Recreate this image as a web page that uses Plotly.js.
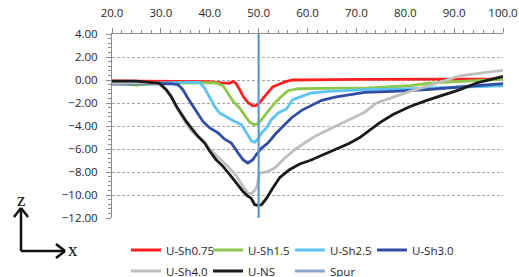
<!DOCTYPE html>
<html>
<head>
<meta charset="utf-8">
<script src="https://cdn.plot.ly/plotly-3.0.1.min.js"></script>
<style>html,body{margin:0;padding:0;background:#fff;}#chart{width:519px;height:277px;}</style>
</head>
<body>
<div id="chart"></div>
<script>
// ---- data ----
var seriesNames = ['U-Sh0.75', 'U-Sh1.5', 'U-Sh2.5', 'U-Sh3.0', 'U-Sh4.0', 'U-NS', 'Spur'];

var sh075X = [20, 25, 30, 35, 40, 42.5, 44, 44.8, 45.4, 46.2, 46.8, 47.8, 48.8, 49.4, 50.2, 50.9, 51.9, 52.9, 54.3, 55.7, 57, 60, 65, 70, 75, 80, 85, 90, 95, 100];
var sh075Y = [-0.08, -0.1, -0.1, -0.12, -0.15, -0.25, -0.28, -0.12, -0.3, -0.9, -1.4, -1.95, -2.25, -2.22, -2.0, -1.6, -1.1, -0.6, -0.35, -0.12, 0.0, 0.03, 0.04, 0.05, 0.07, 0.08, 0.07, 0.07, 0.08, 0.1];

var sh15X = [20, 23, 25, 27, 30, 35, 40, 41.3, 42.7, 43.7, 44.8, 46.1, 47.1, 48.2, 49.2, 49.9, 50.6, 51.9, 53.3, 54.7, 56, 58.1, 62.9, 66, 71.7, 76, 81, 85, 91.2, 95, 100];
var sh15Y = [-0.3, -0.35, -0.45, -0.35, -0.3, -0.25, -0.22, -0.26, -0.5, -1.13, -1.86, -2.43, -3.0, -3.69, -3.89, -3.8, -3.45, -2.73, -2.0, -1.42, -0.93, -0.76, -0.7, -0.7, -0.7, -0.6, -0.5, -0.28, -0.12, -0.05, 0.08];

var sh25X = [20, 25, 30, 35, 37.9, 38.95, 40, 41, 42, 43.7, 45.1, 46.5, 47.5, 48.5, 49.2, 49.9, 50.6, 51.6, 52.6, 54, 55.7, 57, 58.8, 60.8, 64.2, 68.3, 71.7, 80, 90, 100];
var sh25Y = [-0.3, -0.3, -0.25, -0.2, -0.2, -0.7, -1.57, -2.3, -2.87, -3.3, -3.6, -3.89, -4.6, -5.28, -5.42, -5.1, -4.6, -4.17, -3.45, -2.87, -2.52, -1.71, -1.42, -1.13, -0.99, -0.9, -0.84, -0.78, -0.65, -0.5];

var sh30X = [20, 25, 30, 31.8, 33.5, 34.5, 35.5, 36.6, 37.6, 38.6, 40, 41.7, 43, 44.4, 45.8, 46.8, 47.8, 48.8, 49.5, 50.6, 51.9, 53.3, 55, 56.7, 58.8, 60.8, 62.9, 65.6, 68.3, 71.7, 77.5, 84.4, 91.2, 100];
var sh30Y = [-0.35, -0.35, -0.35, -0.32, -0.4, -0.84, -1.57, -2.3, -3.0, -3.6, -4.17, -4.6, -5.13, -5.48, -6.35, -6.93, -7.22, -6.93, -6.5, -5.92, -5.48, -4.76, -4.03, -3.3, -2.64, -2.23, -1.77, -1.48, -1.28, -1.08, -0.99, -0.84, -0.61, -0.32];

var sh40X = [20, 25, 27.7, 29.7, 31.1, 32.1, 33.2, 34.2, 35.2, 36.2, 37.6, 38.95, 40, 41.3, 42.7, 44.1, 45.4, 46.8, 47.8, 48.5, 49.2, 49.7, 50.2, 51.6, 53.3, 55.3, 57.4, 59.4, 61.5, 63.5, 66.3, 69, 71.7, 74.1, 77.5, 81, 84.4, 87.8, 91.2, 94.6, 98, 100];
var sh40Y = [-0.3, -0.3, -0.25, -0.35, -0.9, -1.5, -2.4, -3.1, -3.8, -4.4, -4.95, -5.4, -6.0, -6.5, -7.1, -7.7, -8.3, -9.25, -9.83, -9.9, -9.6, -9.2, -8.1, -8.0, -7.65, -6.8, -6.06, -5.48, -4.9, -4.47, -3.89, -3.3, -2.8, -2.0, -1.48, -0.99, -0.55, -0.12, 0.37, 0.55, 0.75, 0.84];

var nsX = [20, 25, 27.7, 29.7, 31.1, 32.1, 33.2, 34.2, 35.2, 36.2, 37.6, 38.95, 40, 41.3, 42.7, 44.1, 45.4, 46.8, 47.8, 48.5, 49.2, 49.9, 50.6, 51.6, 52.9, 54.3, 56.3, 58.4, 60.5, 62.5, 64.5, 66.6, 68.6, 70.7, 72.8, 74.8, 77.5, 81, 84.4, 87.8, 91.2, 94.6, 98, 100];
var nsY = [-0.1, -0.1, -0.2, -0.3, -0.84, -1.42, -2.3, -3.0, -3.6, -4.17, -4.9, -5.48, -6.2, -6.93, -7.51, -8.23, -8.96, -9.69, -10.1, -10.3, -10.84, -10.9, -10.84, -10.3, -9.4, -8.5, -7.8, -7.3, -7.0, -6.64, -6.3, -5.9, -5.5, -5.0, -4.3, -3.7, -3.0, -2.3, -1.77, -1.28, -0.84, -0.26, 0.11, 0.31];

var spurX = [50, 50];
var spurY = [-12, 4];

var xTickStep = 10, xMinorStep = 2, yTickStep = 2, yMinorStep = 0.4;

// ---- styling ----
var colors = ['#FF2020', '#8CC84B', '#5EC3F2', '#2F4DA3', '#BFBFBF', '#1A1A1A', '#8EA8CC'];
var spurLineColor = '#5B9BD5';
var font = {family: 'Open Sans, sans-serif', size: 11.5, color: '#262626'};

var xs = [sh075X, sh15X, sh25X, sh30X, sh40X, nsX];
var ys = [sh075Y, sh15Y, sh25Y, sh30Y, sh40Y, nsY];

var traces = [];
for (var i = 0; i < 6; i++) {
  traces.push({
    type: 'scatter', mode: 'lines', x: xs[i], y: ys[i], name: seriesNames[i],
    line: {color: colors[i], width: 2.8},
    legend: i < 4 ? 'legend' : 'legend2'
  });
}
traces.push({type: 'scatter', mode: 'lines', x: spurX, y: spurY, name: seriesNames[6],
  line: {color: spurLineColor, width: 2.2}, showlegend: false});
traces.push({type: 'scatter', mode: 'lines', x: [null], y: [null], name: seriesNames[6],
  line: {color: colors[6], width: 2.8}, legend: 'legend2'});

var L = 112, T = 34, W = 391, H = 184;
function px(p) { return (p - L) / W; }
function py(p) { return (T + H - p) / H; }
function seg(x0, y0, x1, y1) {
  return {type: 'line', xref: 'paper', yref: 'paper', x0: px(x0), y0: py(y0), x1: px(x1), y1: py(y1),
    line: {color: '#111', width: 2.5}};
}

var legendCommon = {orientation: 'h', xref: 'paper', yref: 'container', x: px(126), xanchor: 'left',
  yanchor: 'middle', entrywidth: 37, entrywidthmode: 'pixels', itemwidth: 30, font: font,
  bgcolor: 'rgba(0,0,0,0)', traceorder: 'normal'};

var layout = {
  width: 519, height: 277,
  margin: {l: L, r: 519 - L - W, t: T, b: 277 - T - H},
  paper_bgcolor: '#fff', plot_bgcolor: '#fff',
  font: font,
  xaxis: {
    side: 'top', range: [20, 100], dtick: xTickStep, tick0: 20, tickformat: '.1f',
    showgrid: false, zeroline: false, showline: true, linecolor: '#8C8C8C', linewidth: 1,
    ticks: 'outside', ticklen: 5, tickcolor: '#8C8C8C', ticklabelstandoff: 6,
    minor: {dtick: xMinorStep, ticks: 'outside', ticklen: 3, tickcolor: '#8C8C8C', showgrid: false},
    tickfont: font
  },
  yaxis: {
    range: [-12, 4], dtick: yTickStep, tick0: 0, tickformat: '.2f',
    showgrid: true, gridcolor: '#A6A6A6', griddash: '3px,2px', gridwidth: 1,
    zeroline: false, showline: true, linecolor: '#8C8C8C', linewidth: 1,
    ticks: 'outside', ticklen: 5, tickcolor: '#8C8C8C', ticklabelstandoff: 6,
    minor: {dtick: yMinorStep, ticks: 'outside', ticklen: 3, tickcolor: '#8C8C8C', showgrid: false},
    tickfont: font
  },
  legend: Object.assign({}, legendCommon, {y: 1 - 250 / 277}),
  legend2: Object.assign({}, legendCommon, {y: 1 - 271 / 277}),
  shapes: [
    seg(21, 251, 21, 208), seg(14, 217, 21, 208), seg(28, 217, 21, 208),
    seg(21, 251, 65, 251), seg(56, 244, 65, 251), seg(56, 258, 65, 251)
  ],
  annotations: [
    {xref: 'paper', yref: 'paper', x: px(21), y: py(199), xanchor: 'center', yanchor: 'middle', text: 'z', showarrow: false,
      font: {family: 'Liberation Serif, serif', size: 19, color: '#111'}},
    {xref: 'paper', yref: 'paper', x: px(73), y: py(249), xanchor: 'center', yanchor: 'middle', text: 'x', showarrow: false,
      font: {family: 'Liberation Serif, serif', size: 19, color: '#111'}}
  ]
};

Plotly.newPlot('chart', traces, layout, {displayModeBar: false, staticPlot: true});
</script>
</body>
</html>
